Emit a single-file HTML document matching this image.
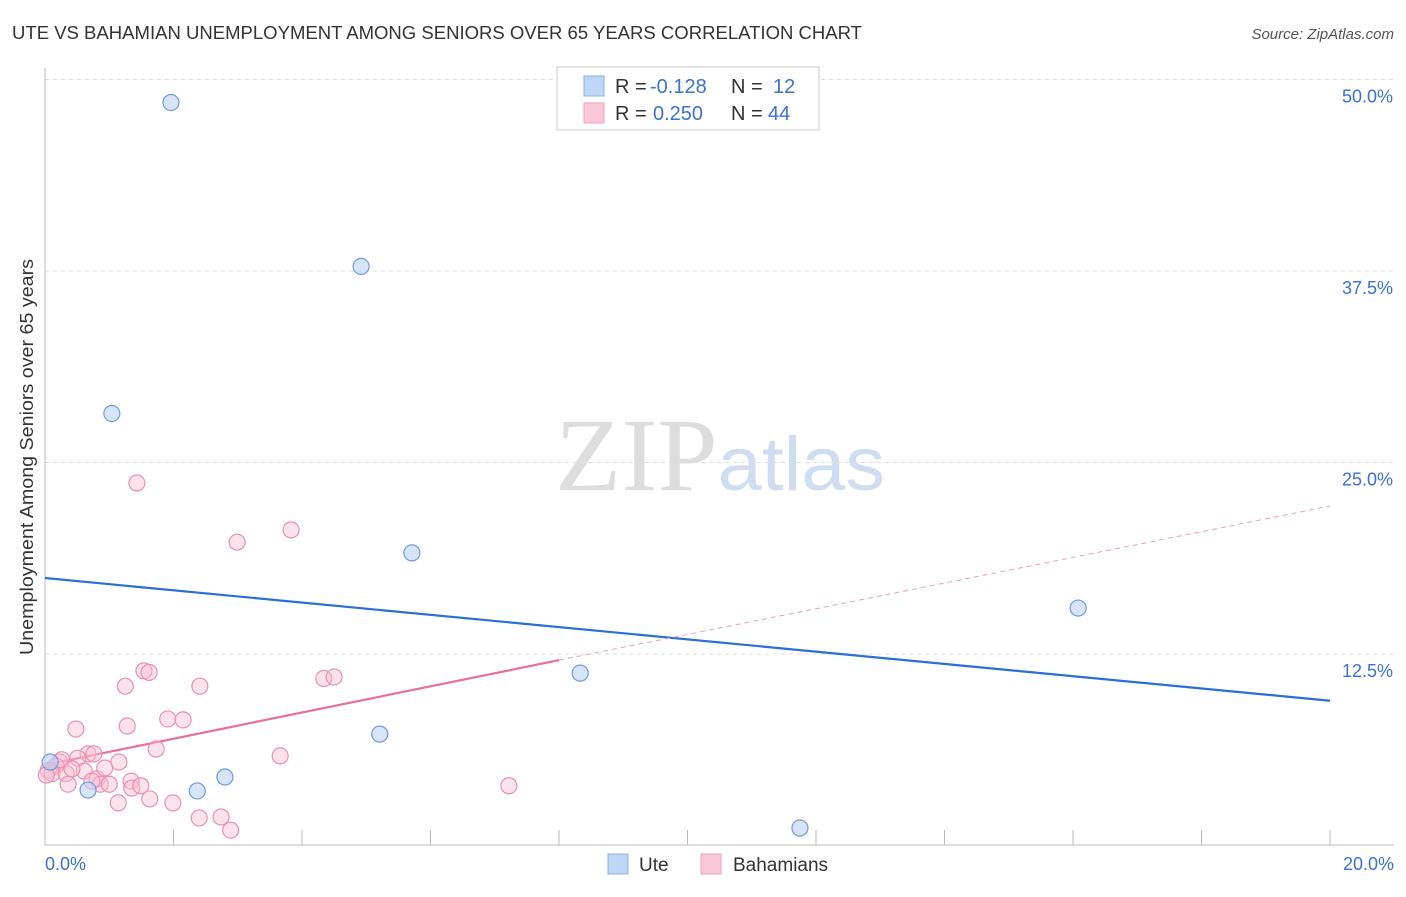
<!DOCTYPE html>
<html><head><meta charset="utf-8"><style>
body{margin:0;background:#fff;font-family:"Liberation Sans",sans-serif}
</style></head><body>
<svg id="chart" width="1406" height="892" xmlns="http://www.w3.org/2000/svg">
<text x="12" y="39" font-size="18" fill="#333" textLength="850" lengthAdjust="spacingAndGlyphs">UTE VS BAHAMIAN UNEMPLOYMENT AMONG SENIORS OVER 65 YEARS CORRELATION CHART</text>
<text x="1394" y="39" font-size="15" fill="#555" font-style="italic" text-anchor="end">Source: ZipAtlas.com</text>
<text x="555" y="490" font-size="104" textLength="330" lengthAdjust="spacingAndGlyphs"><tspan fill="#ddd" font-family="Liberation Serif">ZIP</tspan><tspan fill="#d0dcf0" font-size="76">atlas</tspan></text>
<text transform="translate(33,457) rotate(-90)" font-size="18" fill="#333" text-anchor="middle" textLength="396" lengthAdjust="spacingAndGlyphs">Unemployment Among Seniors over 65 years</text>
<g id="grid"></g><g id="axes"></g><g id="lines"></g><g id="pts"></g>
<g font-size="20">
<rect x="557" y="67" width="262" height="63" fill="#fff" stroke="#ccc"/>
<rect x="584" y="76" width="20" height="20" fill="#c0d6f5" stroke="#8ab0e6"/>
<rect x="584" y="103" width="20" height="20" fill="#fac8d8" stroke="#f0a0bb"/>
<text x="615" y="93" fill="#333">R =</text>
<text x="650" y="93" fill="#3a72d0">-0.128</text>
<text x="731" y="93" fill="#333">N =</text>
<text x="773" y="93" fill="#3a72d0">12</text>
<text x="615" y="120" fill="#333">R =</text>
<text x="653" y="120" fill="#3a72d0">0.250</text>
<text x="731" y="120" fill="#333">N =</text>
<text x="768" y="120" fill="#3a72d0">44</text>
</g>
<g>
<rect x="608" y="854" width="20" height="20" fill="#c0d6f5" stroke="#8ab0e6"/>
<text x="639" y="871" font-size="19" fill="#333">Ute</text>
<rect x="701" y="854" width="20" height="20" fill="#fac8d8" stroke="#f0a0bb"/>
<text x="733" y="871" font-size="19" fill="#333">Bahamians</text>
</g>
</svg>
<script>
const yTicks=[12.5,25,37.5,50];
const yTickLabels=["12.5%","25.0%","37.5%","50.0%"];
const xTickVals=[0,2,4,6,8,10,12,14,16,18,20];
const uteX=[1.96,4.92,1.04,5.71,16.08,8.33,5.21,2.80,2.37,0.67,11.75,0.08];
const uteY=[48.5,37.8,28.2,19.1,15.5,11.25,7.27,4.47,3.56,3.62,1.14,5.45];
const bahX=[1.43,3.83,2.99,1.54,1.62,1.25,2.41,4.34,4.50,0.48,1.28,1.91,2.15,1.73,3.66,0.67,0.76,0.51,0.23,0.17,0.05,0.11,0.33,0.36,0.61,0.81,0.93,1.15,0.86,1.0,1.34,1.35,1.49,1.14,1.63,1.99,2.40,2.74,2.89,7.22,0.02,0.26,0.42,0.73];
const bahY=[23.66,20.6,19.8,11.4,11.3,10.4,10.4,10.9,11.0,7.6,7.8,8.26,8.2,6.3,5.85,5.98,5.98,5.7,5.45,5.2,4.9,4.7,4.7,4.0,4.86,4.35,5.06,5.45,4.0,4.0,4.2,3.75,3.9,2.78,3.04,2.78,1.8,1.86,1.0,3.9,4.6,5.6,5.0,4.2];
const uteLine=[[0,17.46],[20,9.45]];
const bahLine=[[0,5.26],[8,12.1]];
const bahDash=[[8,12.1],[20,22.16]];
const X=v=>45+v/20*1285, Y=v=>845.5-v*15.32;
const NS="http://www.w3.org/2000/svg";
function mk(t,a,p){const e=document.createElementNS(NS,t);for(const k in a)e.setAttribute(k,a[k]);document.getElementById(p).appendChild(e);return e;}
yTicks.forEach((v,i)=>{
 const l=mk('line',{x1:45,x2:1394,y1:Y(v),y2:Y(v),stroke:'#ddd','stroke-dasharray':'4,4'},'grid');
 
 
 const t=mk('text',{x:1393,y:Y(v)+23,'font-size':18,fill:'#3a72d0','text-anchor':'end'},'grid');
 t.textContent=yTickLabels[i];
 
 
});
const ax=mk('line',{x1:45,x2:1394,y1:845,y2:845,stroke:'#bbb'},'axes');


const ay=mk('line',{x1:45,x2:45,y1:68,y2:845,stroke:'#bbb'},'axes');


xTickVals.forEach(v=>{
 const t=mk('line',{x1:X(v),x2:X(v),y1:830,y2:845,stroke:'#bbb'},'axes');
 
 
});
[[0,"0.0%","start",45],[20,"20.0%","end",1394]].forEach(d=>{
 const t=mk('text',{x:d[3],y:870,'font-size':18,fill:'#3a72d0','text-anchor':d[2]},'axes');
 t.textContent=d[1];
 
 
});
function line(pts,c,w,dash,name){
 const a={x1:X(pts[0][0]),y1:Y(pts[0][1]),x2:X(pts[1][0]),y2:Y(pts[1][1]),stroke:c,'stroke-width':w};
 if(dash)a['stroke-dasharray']=dash;
 const l=mk('line',a,'lines');
 
 
}
line(uteLine,'#2a6fd6',2.2,null,'ute-trend-line');
line(bahLine,'#e8709a',2.2,null,'bahamian-trend-line');
line(bahDash,'#e8a0b8',1,'5,4','bahamian-trend-extension');
bahX.forEach((x,i)=>{
 const c=mk('circle',{cx:X(x),cy:Y(bahY[i]),r:8,fill:'rgba(248,190,210,0.45)',stroke:'#ec8fb0','stroke-width':1.2},'pts');
 
 
});
uteX.forEach((x,i)=>{
 const c=mk('circle',{cx:X(x),cy:Y(uteY[i]),r:8,fill:'rgba(190,212,245,0.6)',stroke:'#6d9be0','stroke-width':1.2},'pts');
 
 
});
</script>
</body></html>
